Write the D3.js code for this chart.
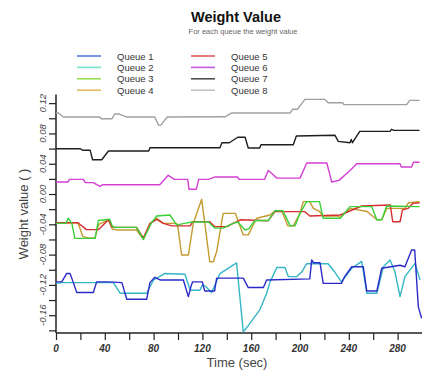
<!DOCTYPE html>
<html><head><meta charset="utf-8">
<script src="https://cdn.jsdelivr.net/npm/d3@7"></script>
<style>
body{margin:0;background:#fff;}
svg{display:block;font-family:"Liberation Sans",Arial,sans-serif;}
</style></head>
<body><svg id="c" width="430" height="376"></svg>
<script>
const seriesNames = ["Queue 1","Queue 2","Queue 3","Queue 4","Queue 5","Queue 6","Queue 7","Queue 8"];
const lineColors  = ["#2a2ac8","#35b5c5","#3ccf3c","#c49a2e","#d62e2e","#d43fd4","#1e1e1e","#a0a0a0"];
const legendColors= ["#5a78e0","#78e0c8","#98e058","#e0bc5a","#e05a5a","#c45ae0","#505050","#c4c4c4"];

const q1 = [[0,-0.116],[4.7,-0.116],[8.7,-0.105],[11.5,-0.105],[14,-0.116],[17,-0.130],[30.6,-0.130],[33.3,-0.116],[43,-0.116],[54,-0.117],[58,-0.139],[74.3,-0.139],[77,-0.117],[81,-0.110],[85.3,-0.1135],[104.4,-0.1135],[108.5,-0.1355],[111,-0.120],[112,-0.116],[120,-0.116],[120.8,-0.122],[122,-0.128],[130,-0.128],[131.7,-0.111],[153.5,-0.111],[157.6,-0.1235],[170,-0.1235],[172.7,-0.1135],[208,-0.112],[209.6,-0.087],[211,-0.0907],[216.4,-0.0907],[219,-0.118],[234,-0.118],[236.6,-0.109],[242.4,-0.096],[251.9,-0.096],[254.7,-0.128],[263,-0.128],[267,-0.098],[282,-0.094],[286,-0.096],[291.5,-0.074],[294,-0.074],[297,-0.149],[299.7,-0.164]];
const q2 = [[0,-0.118],[5,-0.117],[47,-0.117],[52.5,-0.131],[74.3,-0.131],[80,-0.1135],[89,-0.105],[105.7,-0.106],[110,-0.127],[118,-0.127],[120,-0.120],[122,-0.121],[127.6,-0.130],[134.4,-0.105],[148,-0.091],[153.5,-0.182],[157,-0.175],[167,-0.153],[172.7,-0.131],[175.5,-0.116],[181,-0.097],[187.7,-0.097],[190.4,-0.109],[197.3,-0.109],[201.4,-0.103],[205.5,-0.092],[223,-0.092],[228.5,-0.103],[234,-0.116],[242.4,-0.098],[250.6,-0.089],[254.7,-0.131],[263,-0.131],[268.3,-0.096],[273.8,-0.087],[277.9,-0.103],[282,-0.1355],[286,-0.109],[294.3,-0.0915],[298.4,-0.1135]];
const q3 = [[0,-0.0387],[8,-0.0387],[10,-0.032],[13,-0.0387],[15.5,-0.0585],[32,-0.0585],[34.7,-0.035],[44,-0.0334],[46,-0.042],[48,-0.044],[66,-0.044],[71.6,-0.060],[78,-0.0387],[82.5,-0.029],[93.4,-0.0277],[99,-0.041],[105,-0.0387],[112,-0.037],[125,-0.037],[130,-0.045],[137,-0.045],[145,-0.0387],[149,-0.037],[155,-0.0475],[158,-0.046],[163,-0.035],[174,-0.035],[179.5,-0.022],[186,-0.022],[192,-0.042],[196,-0.042],[200,-0.0255],[205.5,-0.010],[216,-0.010],[219,-0.032],[233,-0.032],[241,-0.0167],[258.8,-0.0167],[263,-0.034],[267,-0.034],[271,-0.0158],[298,-0.0167]];
const q4 = [[0,-0.038],[18,-0.038],[22,-0.056],[26,-0.058],[32,-0.058],[35,-0.040],[43,-0.034],[46,-0.046],[50,-0.0475],[66,-0.0475],[71.6,-0.060],[77,-0.039],[82.5,-0.032],[88,-0.0387],[99,-0.0387],[100,-0.045],[103,-0.0805],[108.5,-0.0805],[110,-0.065],[112.5,-0.039],[119.4,-0.007],[122,-0.039],[126,-0.0894],[129,-0.0894],[131.7,-0.076],[137,-0.0255],[147,-0.0255],[148,-0.030],[153.5,-0.054],[157.6,-0.054],[164.5,-0.032],[175.4,-0.0277],[179.5,-0.022],[185,-0.022],[190,-0.042],[194.5,-0.042],[200,-0.0255],[202.7,-0.010],[208,-0.010],[211,-0.019],[216,-0.023],[219,-0.029],[231,-0.029],[233,-0.031],[241,-0.019],[255,-0.023],[263,-0.034],[267,-0.034],[271,-0.019],[286,-0.019],[289,-0.0115],[298,-0.010]];
const q5 = [[0,-0.038],[18,-0.038],[25,-0.047],[35,-0.047],[38,-0.042],[43,-0.034],[45.6,-0.043],[48,-0.044],[66,-0.044],[71.6,-0.058],[77,-0.039],[82.5,-0.0334],[88,-0.0387],[95,-0.042],[110,-0.042],[112,-0.0366],[126,-0.0366],[130,-0.043],[140,-0.043],[151,-0.034],[174,-0.0352],[179.5,-0.0233],[204,-0.0233],[208,-0.029],[233,-0.0277],[250.5,-0.0158],[274,-0.0145],[276,-0.0366],[282,-0.0366],[284,-0.021],[288.5,-0.019],[292.6,-0.0123],[298,-0.0115]];
const q6 = [[0,0.0158],[10,0.0158],[11,0.0194],[22.4,0.0194],[24,0.015],[30.6,0.015],[36,0.0101],[38,0.0123],[85,0.0123],[92,0.0247],[97,0.0194],[108,0.0194],[109,0.0062],[115,0.0062],[117,0.0194],[125,0.0194],[130,0.0224],[149,0.0224],[150,0.0194],[171,0.0194],[174,0.031],[178,0.0255],[181,0.021],[200,0.021],[205.5,0.041],[222,0.041],[226,0.0158],[232,0.018],[241,0.031],[246.5,0.040],[282,0.040],[283,0.0357],[291.5,0.0357],[293,0.042],[298,0.042]];
const q7 = [[0,0.0598],[20,0.0598],[22,0.0577],[28,0.0577],[30,0.0453],[37.5,0.0453],[43,0.0568],[76,0.0568],[77,0.061],[134.4,0.061],[136,0.0677],[142,0.0677],[149,0.075],[155,0.075],[157.6,0.0607],[167,0.0607],[168,0.065],[194.5,0.065],[197,0.0766],[228.7,0.0775],[231.4,0.0695],[241,0.0677],[242,0.072],[243,0.0677],[249,0.0827],[273.8,0.0827],[275,0.0854],[277,0.084],[298,0.084]];
const q8 = [[0,0.107],[2,0.107],[6,0.1016],[36,0.1016],[37,0.0994],[46,0.0994],[48,0.1056],[52,0.1056],[58,0.1016],[81,0.1016],[84,0.091],[86,0.091],[91,0.1016],[138.5,0.102],[144,0.107],[192,0.107],[194,0.112],[198,0.112],[204,0.125],[220.5,0.125],[223,0.1205],[235,0.1205],[236,0.118],[287.4,0.118],[290,0.1237],[298,0.1237]];
const seriesData = [q1,q2,q3,q4,q5,q6,q7,q8];
// draw order (back to front)
const drawOrder = [7,6,5,1,0,3,4,2];

const xMinorTicks = [0,20,40,60,80,100,120,140,160,180,200,220,240,260,280];
const xTickValues = [0,40,80,120,160,200,240,280];
const xTickLabels = ["0","40","80","120","160","200","240","280"];
const yMinorTicks = [-0.18,-0.16,-0.14,-0.12,-0.10,-0.08,-0.06,-0.04,-0.02,0,0.02,0.04,0.06,0.08,0.10,0.12];
const yTickValues = [-0.16,-0.12,-0.08,-0.04,0,0.04,0.08,0.12];
const yTickLabels = ["-0.16","-0.12","-0.08","-0.04","0.00","0.04","0.08","0.12"];

const svg = d3.select("#c");
const x = d3.scaleLinear().domain([0,300]).range([56,422]);
const y = d3.scaleLinear().domain([-0.1835,0.1314]).range([333,94.5]);

// title
svg.append("text").attr("x",236).attr("y",22).attr("text-anchor","middle")
  .attr("font-size",14.5).attr("font-weight","bold").attr("fill","#111").text("Weight Value");
svg.append("text").attr("x",243).attr("y",34).attr("text-anchor","middle")
  .attr("font-size",7.5).attr("fill","#666").text("For each queue the weight value");

// legend
const legend = svg.append("g");
seriesNames.forEach((n,i)=>{
  const col = Math.floor(i/4), row = i%4;
  const lx = col===0 ? 77 : 191, ly = 56 + row*11.4;
  legend.append("line").attr("x1",lx).attr("x2",lx+24).attr("y1",ly).attr("y2",ly)
    .attr("stroke",legendColors[i]).attr("stroke-width",1.6);
  legend.append("text").attr("x",lx+40).attr("y",ly+3.5).attr("font-size",9.5)
    .attr("fill","#333").text(n);
});

// axes
const yAxis = d3.axisLeft(y).tickValues(yMinorTicks).tickSize(7).tickFormat("");
const gy = svg.append("g").attr("transform","translate(56,0)").call(yAxis);
gy.select(".domain").attr("d","M0,94.5V333").attr("stroke","#222").attr("stroke-width",1.5);
gy.selectAll(".tick line").attr("stroke","#222").attr("stroke-width",1.2);

const xAxis = d3.axisBottom(x).tickValues(xMinorTicks).tickSize(7).tickFormat("");
const gx = svg.append("g").attr("transform","translate(0,333)").call(xAxis);
gx.select(".domain").attr("d","M56,0H422").attr("stroke","#222").attr("stroke-width",1.5);
gx.selectAll(".tick line").attr("stroke","#222").attr("stroke-width",1.2);

yTickValues.forEach((v,i)=>{
  svg.append("text").attr("transform",`translate(45.5,${y(v)}) rotate(-90)`)
    .attr("text-anchor","middle").attr("font-size",9.5).attr("font-style","italic")
    .attr("fill","#444").text(yTickLabels[i]);
});
xTickValues.forEach((v,i)=>{
  svg.append("text").attr("x",x(v)).attr("y",352).attr("text-anchor","middle")
    .attr("font-size",10).attr("font-style","italic").attr("font-weight","bold")
    .attr("fill","#333").text(xTickLabels[i]);
});

svg.append("text").attr("transform","translate(28,214) rotate(-90)").attr("text-anchor","middle")
  .attr("font-size",13).attr("fill","#444").text("Weight value ( )");
svg.append("text").attr("x",237).attr("y",367).attr("text-anchor","middle")
  .attr("font-size",13).attr("fill","#444").text("Time (sec)");

// lines
const line = d3.line().x(d=>x(d[0])).y(d=>y(d[1]));
drawOrder.forEach(i=>{
  svg.append("path").datum(seriesData[i]).attr("d",line).attr("fill","none")
    .attr("stroke",lineColors[i]).attr("stroke-width",1.4).attr("stroke-linejoin","round");
});
</script></body></html>
